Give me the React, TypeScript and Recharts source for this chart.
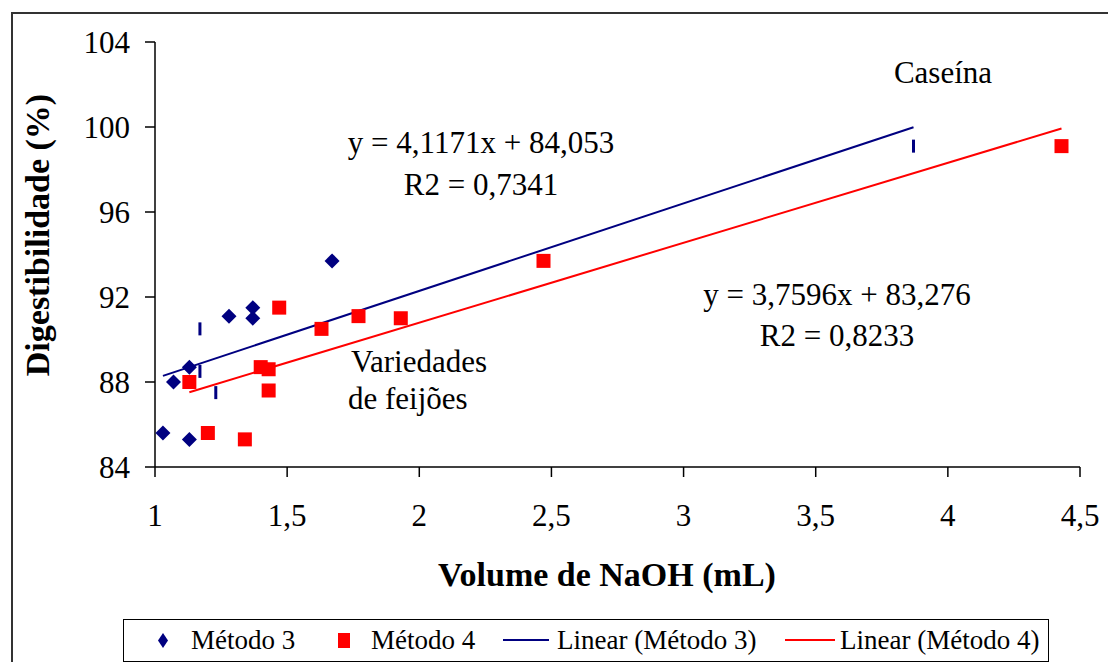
import React from 'react';
import { ComposedChart, Scatter, Line, XAxis, YAxis } from 'recharts';

const FONT = "'Liberation Serif', 'DejaVu Serif', serif";
const NAVY = '#000080';
const RED = '#FF0000';

// Volume de NaOH (mL) x Digestibilidade (%)
const metodo3X = [1.03, 1.07, 1.13, 1.13, 1.28, 1.37, 1.37, 1.67];
const metodo3Y = [85.6, 88.0, 88.7, 85.3, 91.1, 91.5, 91.0, 93.7];
// pontos do método 3 que aparecem como traço vertical
const metodo3TracoX = [1.17, 1.17, 1.23, 3.87];
const metodo3TracoY = [90.5, 88.5, 87.5, 99.1];

const metodo4X = [1.13, 1.2, 1.34, 1.4, 1.43, 1.43, 1.47, 1.63, 1.77, 1.93, 2.47, 4.43];
const metodo4Y = [88.0, 85.6, 85.3, 88.7, 88.6, 87.6, 91.5, 90.5, 91.1, 91.0, 93.7, 99.1];

// linhas de tendência (extremos)
const linear3X = [1.03, 3.87];
const linear3Y = [88.29, 99.99];
const linear4X = [1.13, 4.43];
const linear4Y = [87.52, 99.93];

const xTicks = [1, 1.5, 2, 2.5, 3, 3.5, 4, 4.5];
const yTicks = [84, 88, 92, 96, 100, 104];

const toPoints = (xs: number[], ys: number[]) => xs.map((x, i) => ({ x, y: ys[i] }));

const metodo3 = toPoints(metodo3X, metodo3Y);
const metodo3Traco = toPoints(metodo3TracoX, metodo3TracoY);
const metodo4 = toPoints(metodo4X, metodo4Y);
const linear3 = toPoints(linear3X, linear3Y);
const linear4 = toPoints(linear4X, linear4Y);

function Diamond(props: any) {
  const { cx, cy } = props;
  const r = 7.5;
  return <polygon points={`${cx},${cy - r} ${cx + r},${cy} ${cx},${cy + r} ${cx - r},${cy}`} fill={NAVY} />;
}

function Square(props: any) {
  const { cx, cy } = props;
  return <rect x={cx - 7} y={cy - 7} width={14} height={14} fill={RED} />;
}

function Traco(props: any) {
  const { cx, cy } = props;
  return <rect x={cx - 1.5} y={cy - 6.5} width={3} height={13} fill={NAVY} />;
}

const fmt = (v: number) => String(v).replace('.', ',');

const tickStyle = { fill: '#000', fontSize: 31, fontFamily: FONT };

function LegendBox() {
  const item = { position: 'absolute' as const, top: 0, height: 40, display: 'flex', alignItems: 'center' };
  const text = { fontFamily: FONT, fontSize: 27, color: '#000', whiteSpace: 'nowrap' as const };
  return (
    <div
      style={{
        position: 'absolute',
        left: 123,
        top: 619,
        width: 924,
        height: 41,
        border: '1.5px solid #000',
        background: '#fff',
      }}
    >
      <div style={{ ...item, left: 34 }}>
        <svg width={10} height={15}>
          <polygon points="5,0 10,7.5 5,15 0,7.5" fill={NAVY} />
        </svg>
      </div>
      <div style={{ ...item, left: 67 }}><span style={text}>Método 3</span></div>
      <div style={{ ...item, left: 214 }}>
        <svg width={12} height={15}>
          <rect x={0} y={0} width={12} height={15} fill={RED} />
        </svg>
      </div>
      <div style={{ ...item, left: 247 }}><span style={text}>Método 4</span></div>
      <div style={{ ...item, left: 379 }}>
        <svg width={46} height={4}>
          <line x1={0} y1={2} x2={46} y2={2} stroke={NAVY} strokeWidth={2} />
        </svg>
      </div>
      <div style={{ ...item, left: 433 }}><span style={text}>Linear (Método 3)</span></div>
      <div style={{ ...item, left: 661 }}>
        <svg width={50} height={4}>
          <line x1={0} y1={2} x2={50} y2={2} stroke={RED} strokeWidth={2} />
        </svg>
      </div>
      <div style={{ ...item, left: 716 }}><span style={text}>Linear (Método 4)</span></div>
    </div>
  );
}

export default function App() {
  return (
    <div style={{ position: 'absolute', left: 0, top: 0, width: 1108, height: 662, background: '#fff', overflow: 'hidden' }}>
      {/* moldura externa */}
      <div
        style={{
          position: 'absolute',
          left: 11,
          top: 12,
          width: 1100,
          height: 700,
          borderTop: '2px solid #333',
          borderLeft: '2px solid #333',
        }}
      />
      <ComposedChart width={1108} height={662} margin={{ top: 42, right: 28, bottom: 135, left: 95 }}>
        <XAxis
          type="number"
          dataKey="x"
          domain={[1, 4.5]}
          ticks={xTicks}
          tickFormatter={fmt}
          height={60}
          tick={tickStyle}
          tickSize={10}
          tickMargin={27}
          axisLine={{ stroke: '#000', strokeWidth: 1.5 }}
          tickLine={{ stroke: '#000', strokeWidth: 1.5 }}
          allowDataOverflow
        />
        <YAxis
          type="number"
          dataKey="y"
          domain={[84, 104]}
          ticks={yTicks}
          width={60}
          tick={tickStyle}
          tickSize={10}
          tickMargin={15}
          axisLine={{ stroke: '#000', strokeWidth: 1.5 }}
          tickLine={{ stroke: '#000', strokeWidth: 1.5 }}
          allowDataOverflow
        />
        <Line data={linear3} dataKey="y" type="linear" stroke={NAVY} strokeWidth={2} dot={false} activeDot={false} isAnimationActive={false} />
        <Line data={linear4} dataKey="y" type="linear" stroke={RED} strokeWidth={2} dot={false} activeDot={false} isAnimationActive={false} />
        <Scatter data={metodo3} dataKey="y" shape={Diamond} isAnimationActive={false} />
        <Scatter data={metodo3Traco} dataKey="y" shape={Traco} isAnimationActive={false} />
        <Scatter data={metodo4} dataKey="y" shape={Square} isAnimationActive={false} />
      </ComposedChart>
      <svg width={1108} height={662} style={{ position: 'absolute', left: 0, top: 0, pointerEvents: 'none' }}>
        <g fontFamily={FONT} fill="#000">
          <text x={49} y={235} fontSize={34} fontWeight="bold" textAnchor="middle" transform="rotate(-90 49 235)">
            Digestibilidade (%)
          </text>
          <text x={607} y={586} fontSize={34} fontWeight="bold" textAnchor="middle">
            Volume de NaOH (mL)
          </text>
          <text x={943} y={83} fontSize={31} textAnchor="middle">Caseína</text>
          <text x={481} y={153} fontSize={31} textAnchor="middle">y = 4,1171x + 84,053</text>
          <text x={481} y={195} fontSize={31} textAnchor="middle">R2 = 0,7341</text>
          <text x={837} y={305} fontSize={31} textAnchor="middle">y = 3,7596x + 83,276</text>
          <text x={837} y={346} fontSize={31} textAnchor="middle">R2 = 0,8233</text>
          <text x={351} y={372} fontSize={31}>Variedades</text>
          <text x={348} y={409} fontSize={31}>de feijões</text>
        </g>
      </svg>
      <LegendBox />
    </div>
  );
}
